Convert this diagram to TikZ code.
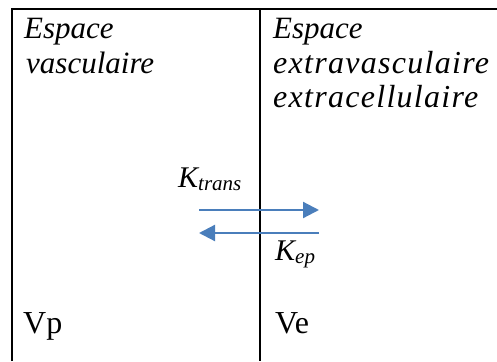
\documentclass[tikz,border=0pt]{standalone}
\usepackage{fontspec}
\setmainfont{Liberation Serif}
\usetikzlibrary{arrows.meta}
\definecolor{arrowblue}{RGB}{74,126,187}
\tikzset{
  frame/.style={line width=2pt, black},
  flux/.style={line width=2.2pt, arrowblue, -{Triangle[length=16pt,width=16pt]}},
  lbl/.style={anchor=base west, inner sep=0pt, font=\fontsize{31}{34}\selectfont\itshape},
  widelbl/.style={anchor=base west, inner sep=0pt, font=\fontsize{32}{34}\selectfont\itshape\addfontfeatures{LetterSpace=4}},
  vol/.style={anchor=base west, inner sep=0pt, font=\fontsize{32}{34}\selectfont},
  rate/.style={anchor=base west, inner sep=0pt, font=\fontsize{30}{34}\selectfont\itshape}
}
\begin{document}
\begin{tikzpicture}[x=1pt,y=-1pt]
\useasboundingbox (0,0) rectangle (497,361);
\coordinate (tl) at (12,9);
\coordinate (tr) at (497,9);
\coordinate (bl) at (12,361);
\coordinate (tm) at (260,9);
\coordinate (bm) at (260,361);
\draw[frame] (bl) -- (tl) -- (tr);
\draw[frame] (tm) -- (bm);
\node[lbl] (l1) at (24,39) {Espace};
\node[lbl] (l2) at (26,73) {vasculaire};
\node[lbl] (r1) at (273,39) {Espace};
\node[widelbl] (r2) at (273,73) {extravasculaire};
\node[widelbl] (r3) at (273,107) {extracellulaire};
\node[rate] (ktrans) at (178,187) {K\textsubscript{trans}};
\node[rate] (kep) at (275,260) {K\textsubscript{ep}};
\coordinate (a1) at (199,210);
\coordinate (b1) at (319,210);
\coordinate (a2) at (319,233);
\coordinate (b2) at (199,233);
\draw[flux] (a1) -- (b1);
\draw[flux] (a2) -- (b2);
\node[vol] (vp) at (23,333) {Vp};
\node[vol] (ve) at (275,333) {Ve};
\end{tikzpicture}
\end{document}
